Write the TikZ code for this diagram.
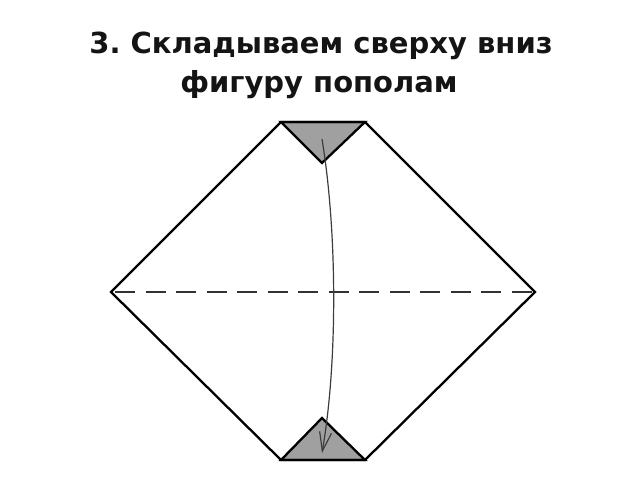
\documentclass[tikz,border=0pt]{standalone}
\usepackage{fontspec}
\setmainfont{DejaVu Sans}
\usetikzlibrary{arrows.meta}
\definecolor{flapgray}{RGB}{160,160,160}
\definecolor{dashgray}{RGB}{50,50,50}
\definecolor{arrowgray}{RGB}{60,60,60}
\definecolor{titleblack}{RGB}{20,20,20}
\tikzset{
  outline/.style={line width=2.3pt, draw=black, line join=miter},
  flap/.style={fill=flapgray, draw=black, line width=2.3pt, line join=miter},
  foldline/.style={line width=2.5pt, draw=dashgray, dash pattern=on 20pt off 10.5pt, dash phase=26.5pt},
  foldarrow/.style={line width=1.2pt, draw=arrowgray, -{Straight Barb[length=19pt,width=12pt]}},
  titletext/.style={anchor=base, inner sep=0pt, text=titleblack, font=\fontsize{29}{36}\selectfont\bfseries\frenchspacing},
}
\begin{document}
\begin{tikzpicture}[x=1pt,y=-1pt]
\useasboundingbox (0,0) rectangle (640,480);
% title
\node[titletext] (t1) at (321,53) {3. Складываем сверху вниз};
\node[titletext] (t2) at (319,92) {фигуру пополам};
% corners
\coordinate (TL) at (281,122);
\coordinate (TR) at (365,122);
\coordinate (R) at (535,292);
\coordinate (BR) at (365,460);
\coordinate (BL) at (281,460);
\coordinate (L) at (111,292);
\coordinate (TA) at (322,163);
\coordinate (BA) at (322,418);
% flaps
\filldraw[flap] (TL) -- (TR) -- (TA) -- cycle;
\filldraw[flap] (BL) -- (BR) -- (BA) -- cycle;
% outline
\draw[outline] (TL) -- (TR) -- (R) -- (BR) -- (BL) -- (L) -- cycle;
% fold line
\draw[foldline] (L) -- (R);
% arrow
\coordinate (AS) at (322,139);
\coordinate (AE) at (322,453);
\draw[foldarrow] (AS) .. controls (337,230) and (338,360) .. (AE);
\end{tikzpicture}
\end{document}
